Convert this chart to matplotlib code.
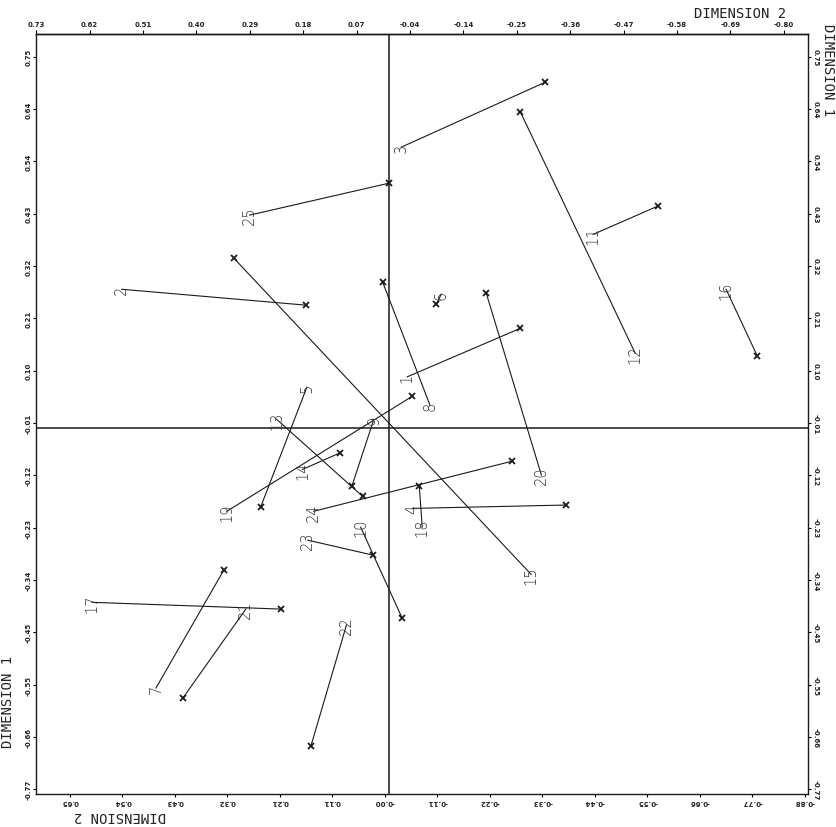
import numpy as np
import matplotlib
matplotlib.use("Agg")
import matplotlib.pyplot as plt

# point labels and the two ends of each displacement line
labels = [str(i) for i in range(1, 26)]
lab_x = [-0.037, 0.547, -0.025, -0.048, 0.168, -0.107, 0.477, -0.084, 0.031, 0.058,
         -0.418, -0.504, 0.230, 0.177, -0.291, -0.690, 0.608, -0.068, 0.332, -0.312,
         0.293, 0.087, 0.166, 0.154, 0.285]
lab_y = [0.106, 0.288, 0.583, -0.167, 0.085, 0.278, -0.540, 0.047, 0.018, -0.206,
         0.402, 0.155, 0.018, -0.086, -0.304, 0.288, -0.362, -0.206, -0.173, -0.098,
         -0.376, -0.409, -0.233, -0.173, 0.442]
end_x = [-0.269, 0.170, -0.320, -0.363, 0.263, -0.097, 0.338, 0.013, 0.076, -0.027,
         -0.551, -0.269, 0.054, 0.101, 0.318, -0.754, 0.222, -0.062, -0.048, -0.199,
         0.422, 0.160, 0.033, -0.252, 0.001]
end_y = [0.207, 0.255, 0.718, -0.160, -0.165, 0.257, -0.295, 0.303, -0.121, -0.395,
         0.461, 0.656, -0.142, -0.052, 0.353, 0.149, -0.376, -0.121, 0.066, 0.280,
         -0.561, -0.661, -0.264, -0.069, 0.508]

top_labels = ['0.73', '0.62', '0.51', '0.40', '0.29', '0.18', '0.07', '-0.04',
              '-0.14', '-0.25', '-0.36', '-0.47', '-0.58', '-0.69', '-0.80']
bottom_labels = ['0.65', '0.54', '0.43', '0.32', '0.21', '0.11', '-0.00', '-0.11',
                 '-0.22', '-0.33', '-0.44', '-0.55', '-0.66', '-0.77', '-0.88']
side_labels = ['-0.77', '-0.66', '-0.55', '-0.45', '-0.34', '-0.23', '-0.12', '-0.01',
               '0.10', '0.21', '0.32', '0.43', '0.54', '0.64', '0.75']

ink = '#1a1a1a'
fig = plt.figure(figsize=(8.36, 8.28), dpi=100)
ax = fig.add_axes([36/836, 33/828, 772/836, 760/828])
ax.set_xlim(0.7225, -0.8576)
ax.set_ylim(-0.760, 0.818)

ax.axvline(0, color=ink, lw=1.1)
ax.axhline(0, color=ink, lw=1.1)

for i in range(len(labels)):
    ax.plot([lab_x[i], end_x[i]], [lab_y[i], end_y[i]], color=ink, lw=0.8)
    ax.plot(end_x[i], end_y[i], marker='x', ms=4, mew=1.3, color=ink)
    ax.text(lab_x[i], lab_y[i], labels[i], rotation=90, ha='center', va='center',
            fontsize=10.5, color='#333333', family='DejaVu Sans', fontweight='light')

tick_font = dict(fontsize=5, fontweight='bold', color='#222222')

# bottom (upside-down) and top scales
ax.set_xticks(np.linspace(0.653, -0.851, 15))
ax.set_xticklabels(bottom_labels, rotation=180, **tick_font)
top = ax.secondary_xaxis('top')
top.set_xticks(np.linspace(0.722, -0.808, 15))
top.set_xticklabels(top_labels, **tick_font)
top.tick_params(direction='out', length=3, width=0.8, pad=2)

ax.set_yticks(np.linspace(-0.750, 0.771, 15))
ax.set_yticklabels(side_labels, **tick_font)
ax.tick_params(axis='x', direction='out', length=2, width=0.8, pad=1)
ax.tick_params(axis='y', direction='out', length=2, width=0.8, pad=1,
               right=True, labelright=True)
for t in ax.yaxis.get_major_ticks():
    t.label1.set_rotation(90)
    t.label1.set_va('center')
    t.label2.set_rotation(270)
    t.label2.set_va('center')

for s in ax.spines.values():
    s.set_linewidth(1.0)
    s.set_color(ink)
top.spines['top'].set_linewidth(1.0)

dim_font = dict(fontsize=10, family='DejaVu Sans Mono', color='#222222')
fig.text(0.885, 0.983, 'DIMENSION 2', ha='center', va='center', **dim_font)
fig.text(0.991, 0.915, 'DIMENSION 1', ha='center', va='center', rotation=270, **dim_font)
fig.text(0.009, 0.152, 'DIMENSION 1', ha='center', va='center', rotation=90, **dim_font)
fig.text(0.1435, 0.0145, 'DIMENSION 2', ha='center', va='center', rotation=180, **dim_font)

fig.savefig('out.png', dpi=100)
